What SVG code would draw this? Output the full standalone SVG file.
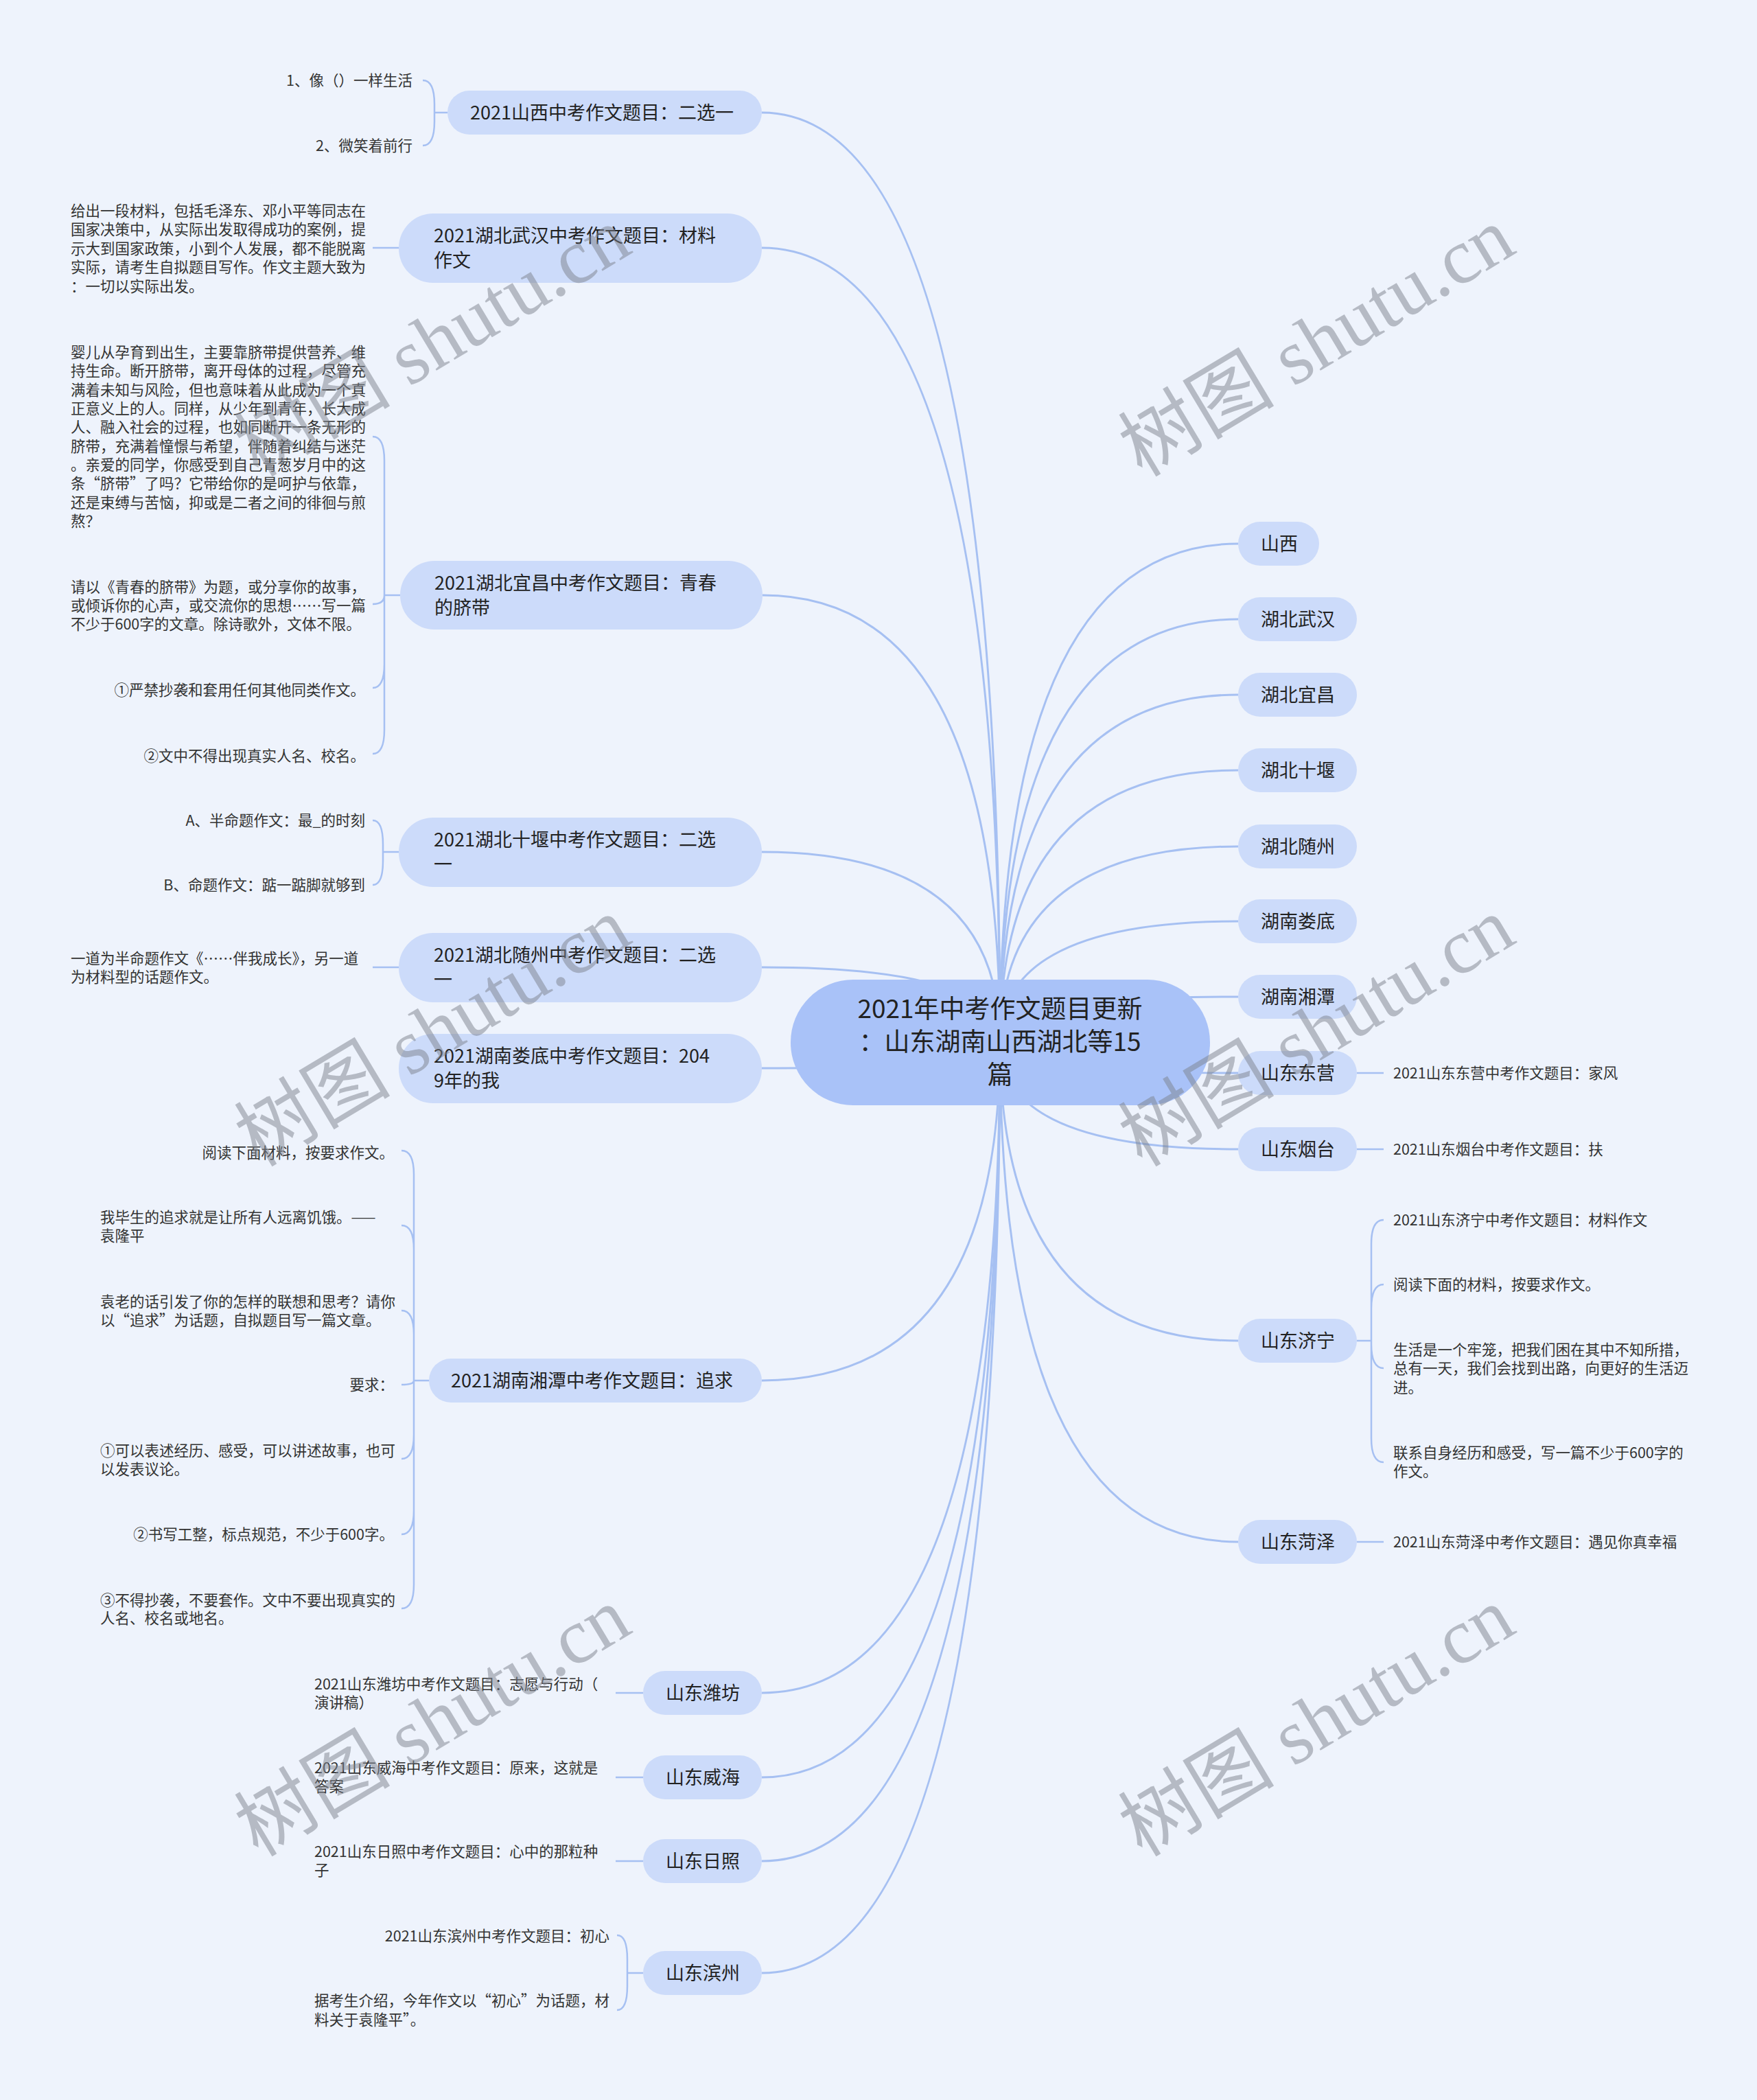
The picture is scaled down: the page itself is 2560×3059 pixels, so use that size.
<svg xmlns="http://www.w3.org/2000/svg" width="2560" height="3059" viewBox="0 0 2560 3059">
<style>
text{font-family:"Noto Sans CJK SC","Noto Sans",sans-serif;}
.bg{fill:#eef3fc;}
.n{fill:#ccdbfa;}
.c{fill:#a9c2f8;}
.nt{font-size:27px;fill:#222;}
.ct{font-size:37px;fill:#222;text-anchor:middle;}
.lt{font-size:21.5px;fill:#333;}
.e{text-anchor:end;}
.m{fill:none;stroke:#a6c0f2;stroke-width:3;}
.b{fill:none;stroke:#a6c0f2;stroke-width:2.5;}
.wm{font-family:"Liberation Serif","Noto Sans CJK SC",serif;font-size:114px;fill:#7d838e;opacity:0.5;}
</style>
<rect class="bg" x="0" y="0" width="2560" height="3059"/>
<g id="connectors">
<path class="m" d="M1457 1518 Q1457 164 1110 164"/>
<path class="m" d="M1457 1518 Q1457 361 1110 361"/>
<path class="m" d="M1457 1518 Q1457 867 1111 867"/>
<path class="m" d="M1457 1518 Q1457 1241 1110 1241"/>
<path class="m" d="M1457 1518 Q1457 1409 1110 1409"/>
<path class="m" d="M1457 1518 Q1457 1556 1110 1556"/>
<path class="m" d="M1457 1518 Q1457 2011 1110 2011"/>
<path class="m" d="M1457 1518 Q1457 2466 1110 2466"/>
<path class="m" d="M1457 1518 Q1457 2589 1110 2589"/>
<path class="m" d="M1457 1518 Q1457 2711 1110 2711"/>
<path class="m" d="M1457 1518 Q1457 2874 1110 2874"/>
<path class="m" d="M1457 1518 Q1457 792 1804 792"/>
<path class="m" d="M1457 1518 Q1457 902 1804 902"/>
<path class="m" d="M1457 1518 Q1457 1012 1804 1012"/>
<path class="m" d="M1457 1518 Q1457 1122 1804 1122"/>
<path class="m" d="M1457 1518 Q1457 1233 1804 1233"/>
<path class="m" d="M1457 1518 Q1457 1342 1804 1342"/>
<path class="m" d="M1457 1518 Q1457 1452 1804 1452"/>
<path class="m" d="M1457 1518 Q1457 1563 1804 1563"/>
<path class="m" d="M1457 1518 Q1457 1674 1804 1674"/>
<path class="m" d="M1457 1518 Q1457 1953 1804 1953"/>
<path class="m" d="M1457 1518 Q1457 2246 1804 2246"/>
<path class="b" d="M652 164 L633 164 M633 164 L633 152 Q633 117 616 117 M633 164 L633 177 Q633 212 616 212"/>
<path class="b" d="M581 361 L543 361"/>
<path class="b" d="M583 867 L560 867 M560 867 L560 671 Q560 636 543 636 M560 867 Q560 880 543 880 M560 867 L560 967 Q560 1002 543 1002 M560 867 L560 1063 Q560 1098 543 1098"/>
<path class="b" d="M581 1241 L558 1241 M558 1241 L558 1230 Q558 1195 543 1195 M558 1241 L558 1254 Q558 1289 543 1289"/>
<path class="b" d="M581 1409 L543 1409"/>
<path class="b" d="M625 2011 L603 2011 M603 2011 L603 1711 Q603 1676 585 1676 M603 2011 L603 1820 Q603 1785 585 1785 M603 2011 L603 1944 Q603 1909 585 1909 M603 2011 Q603 2017 585 2017 M603 2011 L603 2090 Q603 2125 585 2125 M603 2011 L603 2200 Q603 2235 585 2235 M603 2011 L603 2308 Q603 2343 585 2343"/>
<path class="b" d="M937 2466 L897 2466"/>
<path class="b" d="M937 2589 L897 2589"/>
<path class="b" d="M937 2711 L897 2711"/>
<path class="b" d="M937 2874 L914 2874 M914 2874 L914 2854 Q914 2819 899 2819 M914 2874 L914 2893 Q914 2928 899 2928"/>
<path class="b" d="M1977 1563 L2016 1563"/>
<path class="b" d="M1977 1674 L2016 1674"/>
<path class="b" d="M1977 1953 L1998 1953 M1998 1953 L1998 1812 Q1998 1777 2016 1777 M1998 1953 L1998 1906 Q1998 1871 2016 1871 M1998 1953 L1998 1958 Q1998 1993 2016 1993 M1998 1953 L1998 2095 Q1998 2130 2016 2130"/>
<path class="b" d="M1977 2246 L2016 2246"/>
</g>
<g id="center">
<rect class="c" x="1152" y="1427" width="611" height="183" rx="91"/>
<text class="ct" x="1457" y="1483">2021年中考作文题目更新</text>
<text class="ct" x="1457" y="1531">：山东湖南山西湖北等15</text>
<text class="ct" x="1457" y="1579">篇</text>
</g>
<g id="node-shanxi">
<rect class="n" x="652" y="132" width="458" height="64" rx="32"/>
<text class="nt" x="685" y="173.5">2021山西中考作文题目：二选一</text>
<text class="lt e" x="601" y="124.5">1、像（）一样生活</text>
<text class="lt e" x="601" y="219.5">2、微笑着前行</text>
</g>
<g id="node-wuhan">
<rect class="n" x="581" y="311" width="529" height="101" rx="50"/>
<text class="nt" x="632" y="353">2021湖北武汉中考作文题目：材料</text>
<text class="nt" x="632" y="389">作文</text>
<text class="lt" x="103" y="314.5">给出一段材料，包括毛泽东、邓小平等同志在</text>
<text class="lt" x="103" y="342">国家决策中，从实际出发取得成功的案例，提</text>
<text class="lt" x="103" y="369.5">示大到国家政策，小到个人发展，都不能脱离</text>
<text class="lt" x="103" y="397">实际，请考生自拟题目写作。作文主题大致为</text>
<text class="lt" x="103" y="424.5">：一切以实际出发。</text>
</g>
<g id="node-yichang">
<rect class="n" x="583" y="817" width="528" height="100" rx="50"/>
<text class="nt" x="633" y="858.5">2021湖北宜昌中考作文题目：青春</text>
<text class="nt" x="633" y="894.5">的脐带</text>
<text class="lt" x="103" y="520.5">婴儿从孕育到出生，主要靠脐带提供营养、维</text>
<text class="lt" x="103" y="548">持生命。断开脐带，离开母体的过程，尽管充</text>
<text class="lt" x="103" y="575.5">满着未知与风险，但也意味着从此成为一个真</text>
<text class="lt" x="103" y="603">正意义上的人。同样，从少年到青年，长大成</text>
<text class="lt" x="103" y="630">人、融入社会的过程，也如同断开一条无形的</text>
<text class="lt" x="103" y="657.5">脐带，充满着憧憬与希望，伴随着纠结与迷茫</text>
<text class="lt" x="103" y="685">。亲爱的同学，你感受到自己青葱岁月中的这</text>
<text class="lt" x="103" y="712">条“脐带”了吗？它带给你的是呵护与依靠，</text>
<text class="lt" x="103" y="739.5">还是束缚与苦恼，抑或是二者之间的徘徊与煎</text>
<text class="lt" x="103" y="767">熬？</text>
<text class="lt" x="103" y="862.5">请以《青春的脐带》为题，或分享你的故事，</text>
<text class="lt" x="103" y="889.5">或倾诉你的心声，或交流你的思想……写一篇</text>
<text class="lt" x="103" y="916.5">不少于600字的文章。除诗歌外，文体不限。</text>
<text class="lt e" x="532" y="1012.5">①严禁抄袭和套用任何其他同类作文。</text>
<text class="lt e" x="532" y="1108.5">②文中不得出现真实人名、校名。</text>
</g>
<g id="node-shiyan">
<rect class="n" x="581" y="1191" width="529" height="101" rx="50"/>
<text class="nt" x="632" y="1233">2021湖北十堰中考作文题目：二选</text>
<text class="nt" x="632" y="1269">一</text>
<text class="lt e" x="532" y="1202.5">A、半命题作文：最_的时刻</text>
<text class="lt e" x="532" y="1296.5">B、命题作文：踮一踮脚就够到</text>
</g>
<g id="node-suizhou">
<rect class="n" x="581" y="1359" width="529" height="101" rx="50"/>
<text class="nt" x="632" y="1401">2021湖北随州中考作文题目：二选</text>
<text class="nt" x="632" y="1437">一</text>
<text class="lt" x="103" y="1403.5">一道为半命题作文《……伴我成长》，另一道</text>
<text class="lt" x="103" y="1431">为材料型的话题作文。</text>
</g>
<g id="node-loudi">
<rect class="n" x="581" y="1506" width="529" height="101" rx="50"/>
<text class="nt" x="632" y="1548">2021湖南娄底中考作文题目：204</text>
<text class="nt" x="632" y="1584">9年的我</text>
</g>
<g id="node-xiangtan">
<rect class="n" x="625" y="1979" width="485" height="64" rx="32"/>
<text class="nt" x="657" y="2020.5">2021湖南湘潭中考作文题目：追求</text>
<text class="lt e" x="574" y="1686.5">阅读下面材料，按要求作文。</text>
<text class="lt" x="146" y="1780.5">我毕生的追求就是让所有人远离饥饿。——</text>
<text class="lt" x="146" y="1808">袁隆平</text>
<text class="lt" x="146" y="1903.5">袁老的话引发了你的怎样的联想和思考？请你</text>
<text class="lt" x="146" y="1931">以“追求”为话题，自拟题目写一篇文章。</text>
<text class="lt e" x="574" y="2024.5">要求：</text>
<text class="lt" x="146" y="2120.5">①可以表述经历、感受，可以讲述故事，也可</text>
<text class="lt" x="146" y="2148">以发表议论。</text>
<text class="lt e" x="574" y="2242.5">②书写工整，标点规范，不少于600字。</text>
<text class="lt" x="146" y="2338.5">③不得抄袭，不要套作。文中不要出现真实的</text>
<text class="lt" x="146" y="2365">人名、校名或地名。</text>
</g>
<g id="node-weifang">
<rect class="n" x="937" y="2434" width="173" height="64" rx="32"/>
<text class="nt" x="970" y="2475.5">山东潍坊</text>
<text class="lt" x="458" y="2460.5">2021山东潍坊中考作文题目：志愿与行动（</text>
<text class="lt" x="458" y="2488">演讲稿）</text>
</g>
<g id="node-weihai">
<rect class="n" x="937" y="2557" width="173" height="64" rx="32"/>
<text class="nt" x="970" y="2598.5">山东威海</text>
<text class="lt" x="458" y="2582.5">2021山东威海中考作文题目：原来，这就是</text>
<text class="lt" x="458" y="2610">答案</text>
</g>
<g id="node-rizhao">
<rect class="n" x="937" y="2679" width="173" height="64" rx="32"/>
<text class="nt" x="970" y="2720.5">山东日照</text>
<text class="lt" x="458" y="2704.5">2021山东日照中考作文题目：心中的那粒种</text>
<text class="lt" x="458" y="2732">子</text>
</g>
<g id="node-binzhou">
<rect class="n" x="937" y="2842" width="173" height="64" rx="32"/>
<text class="nt" x="970" y="2883.5">山东滨州</text>
<text class="lt e" x="888" y="2827.5">2021山东滨州中考作文题目：初心</text>
<text class="lt" x="458" y="2922">据考生介绍，今年作文以“初心”为话题，材</text>
<text class="lt" x="458" y="2949.5">料关于袁隆平”。</text>
</g>
<g id="node-r-shanxi">
<rect class="n" x="1804" y="760" width="118" height="64" rx="32"/>
<text class="nt" x="1837" y="801.5">山西</text>
</g>
<g id="node-r-wuhan">
<rect class="n" x="1804" y="870" width="173" height="64" rx="32"/>
<text class="nt" x="1837" y="911.5">湖北武汉</text>
</g>
<g id="node-r-yichang">
<rect class="n" x="1804" y="980" width="173" height="64" rx="32"/>
<text class="nt" x="1837" y="1021.5">湖北宜昌</text>
</g>
<g id="node-r-shiyan">
<rect class="n" x="1804" y="1090" width="173" height="64" rx="32"/>
<text class="nt" x="1837" y="1131.5">湖北十堰</text>
</g>
<g id="node-r-suizhou">
<rect class="n" x="1804" y="1201" width="173" height="64" rx="32"/>
<text class="nt" x="1837" y="1242.5">湖北随州</text>
</g>
<g id="node-r-loudi">
<rect class="n" x="1804" y="1310" width="173" height="64" rx="32"/>
<text class="nt" x="1837" y="1351.5">湖南娄底</text>
</g>
<g id="node-r-xiangtan">
<rect class="n" x="1804" y="1420" width="173" height="64" rx="32"/>
<text class="nt" x="1837" y="1461.5">湖南湘潭</text>
</g>
<g id="node-r-dongying">
<rect class="n" x="1804" y="1531" width="173" height="64" rx="32"/>
<text class="nt" x="1837" y="1572.5">山东东营</text>
<text class="lt" x="2030" y="1571">2021山东东营中考作文题目：家风</text>
</g>
<g id="node-r-yantai">
<rect class="n" x="1804" y="1642" width="173" height="64" rx="32"/>
<text class="nt" x="1837" y="1683.5">山东烟台</text>
<text class="lt" x="2030" y="1681.5">2021山东烟台中考作文题目：扶</text>
</g>
<g id="node-r-jining">
<rect class="n" x="1804" y="1921" width="173" height="64" rx="32"/>
<text class="nt" x="1837" y="1962.5">山东济宁</text>
<text class="lt" x="2030" y="1784.5">2021山东济宁中考作文题目：材料作文</text>
<text class="lt" x="2030" y="1878.5">阅读下面的材料，按要求作文。</text>
<text class="lt" x="2030" y="1973.5">生活是一个牢笼，把我们困在其中不知所措，</text>
<text class="lt" x="2030" y="2001">总有一天，我们会找到出路，向更好的生活迈</text>
<text class="lt" x="2030" y="2028.5">进。</text>
<text class="lt" x="2030" y="2123.5">联系自身经历和感受，写一篇不少于600字的</text>
<text class="lt" x="2030" y="2151">作文。</text>
</g>
<g id="node-r-heze">
<rect class="n" x="1804" y="2214" width="173" height="64" rx="32"/>
<text class="nt" x="1837" y="2255.5">山东菏泽</text>
<text class="lt" x="2030" y="2253.5">2021山东菏泽中考作文题目：遇见你真幸福</text>
</g>
<g id="watermarks">
<text class="wm" transform="translate(376 696) rotate(-31)">树图 shutu.cn</text>
<text class="wm" transform="translate(1664 696) rotate(-31)">树图 shutu.cn</text>
<text class="wm" transform="translate(376 1701) rotate(-31)">树图 shutu.cn</text>
<text class="wm" transform="translate(1664 1701) rotate(-31)">树图 shutu.cn</text>
<text class="wm" transform="translate(376 2706) rotate(-31)">树图 shutu.cn</text>
<text class="wm" transform="translate(1664 2706) rotate(-31)">树图 shutu.cn</text>
</g>
</svg>
